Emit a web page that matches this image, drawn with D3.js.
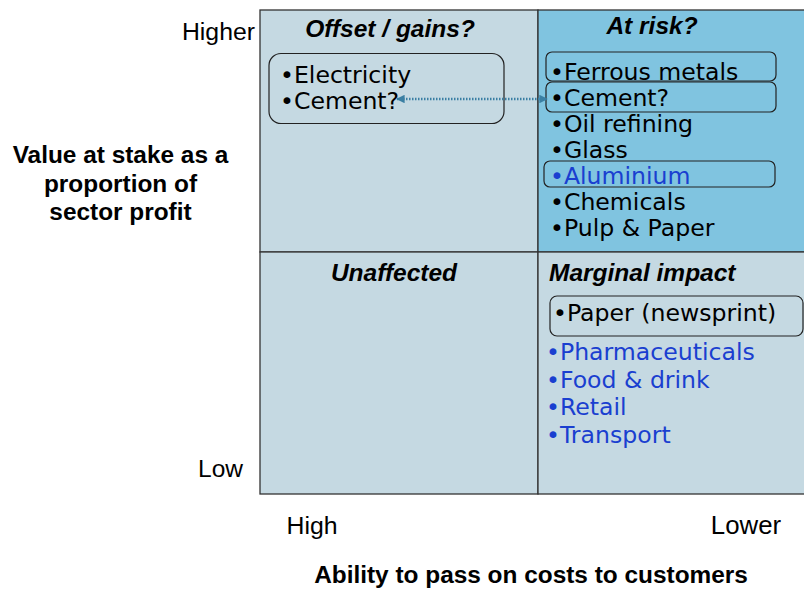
<html>
<head>
<script src="https://d3js.org/d3.v7.min.js"></script>
<style>
body { margin: 0; background: #fff; }
</style>
</head>
<body>
<script>
var width = 804;
var height = 589;

// quadrant titles, left->right, top->bottom
var quadrantTitles = ["Offset / gains?", "At risk?", "Unaffected", "Marginal impact"];
var offsetItems = ["Electricity", "Cement?"];
var atRiskItems = ["Ferrous metals", "Cement?", "Oil refining", "Glass", "Aluminium", "Chemicals", "Pulp & Paper"];
var marginalItems = ["Paper (newsprint)", "Pharmaceuticals", "Food & drink", "Retail", "Transport"];
var blueItems = ["Aluminium", "Pharmaceuticals", "Food & drink", "Retail", "Transport"];
var xTicks = ["High", "Lower"];
var yTicks = ["Low", "Higher"];
var xTitle = "Ability to pass on costs to customers";
var yTitle = ["Value at stake as a", "proportion of", "sector profit"];

var x = d3.scaleLinear().domain([0, 2]).range([260, 816]);
var y = d3.scaleLinear().domain([0, 2]).range([494, 10]);

var svg = d3.select("body").append("svg")
    .attr("width", width)
    .attr("height", height);

var defs = svg.append("defs");
defs.append("marker")
    .attr("id", "arr")
    .attr("viewBox", "0 0 10 10")
    .attr("refX", 9).attr("refY", 5)
    .attr("markerWidth", 4).attr("markerHeight", 3.4)
    .attr("orient", "auto-start-reverse")
    .append("path")
    .attr("d", "M0,0L10,5L0,10z")
    .attr("fill", "#3a7fa3");

// quadrants
var quads = [
  {c: 0, r: 1, fill: "#c5d9e2"},
  {c: 1, r: 1, fill: "#80c4e0"},
  {c: 0, r: 0, fill: "#c5d9e2"},
  {c: 1, r: 0, fill: "#c5d9e2"}
];
svg.selectAll("rect.quad")
  .data(quads)
  .enter().append("rect")
    .attr("class", "quad")
    .attr("x", function(d) { return x(d.c); })
    .attr("y", function(d) { return y(d.r + 1); })
    .attr("width", x(1) - x(0))
    .attr("height", y(0) - y(1))
    .attr("fill", function(d) { return d.fill; })
    .attr("stroke", "#333")
    .attr("stroke-width", 1.3);

// quadrant titles
var titlePos = [
  {x: x(0.5) - 9, y: 37, anchor: "middle"},
  {x: x(1.5) - 25, y: 34, anchor: "middle"},
  {x: x(0.5) - 5, y: 281, anchor: "middle"},
  {x: x(1) + 11, y: 281, anchor: "start"}
];
svg.selectAll("text.qtitle")
  .data(quadrantTitles)
  .enter().append("text")
    .attr("class", "qtitle")
    .attr("x", function(d, i) { return titlePos[i].x; })
    .attr("y", function(d, i) { return titlePos[i].y; })
    .attr("text-anchor", function(d, i) { return titlePos[i].anchor; })
    .style("font-family", "Liberation Sans, Arial, sans-serif")
    .style("font-weight", "bold")
    .style("font-style", "italic")
    .style("font-size", "24.5px")
    .text(function(d) { return d; });

function itemColor(d) { return blueItems.indexOf(d) >= 0 ? "#1a3fd0" : "#000"; }

// rounded highlight boxes
function box(bx, by, bw, bh, r) {
  svg.append("rect")
    .attr("x", bx).attr("y", by)
    .attr("width", bw).attr("height", bh)
    .attr("rx", r)
    .attr("fill", "none")
    .attr("stroke", "#222")
    .attr("stroke-width", 1.2);
}
box(x(0) + 9, 53.5, 235, 70, 12);
box(x(1) + 8, 52, 230, 29, 6);
box(x(1) + 8, 82, 230, 30, 6);
box(x(1) + 6, 161, 231, 26, 6);
box(x(1) + 12, 296, 253, 40, 7);

function drawList(items, x0, y0, step) {
  svg.append("g").selectAll("text")
    .data(items)
    .enter().append("text")
      .attr("x", x0)
      .attr("y", function(d, i) { return y0 + i * step; })
      .attr("fill", itemColor)
      .style("font-family", "DejaVu Sans, Verdana, sans-serif")
      .style("font-size", "23.6px")
      .text(function(d) { return "\u2022" + d; });
}

drawList(offsetItems, x(0) + 20, 83, 25.5);
drawList(atRiskItems, x(1) + 12, 80, 26);
drawList(marginalItems.slice(0, 1), x(1) + 15, 321, 40);
drawList(marginalItems.slice(1), x(1) + 8, 360, 27.6);

// dotted arrow between the two Cement? entries
svg.append("line")
  .attr("x1", 397).attr("y1", 99)
  .attr("x2", x(1) + 9).attr("y2", 99)
  .attr("stroke", "#3a7fa3")
  .attr("stroke-width", 2.5)
  .attr("stroke-dasharray", "1.5,1.5")
  .attr("marker-start", "url(#arr)")
  .attr("marker-end", "url(#arr)");

// axis tick labels
var lab = "Liberation Sans, Arial, sans-serif";
svg.selectAll("text.ytick")
  .data(yTicks)
  .enter().append("text")
    .attr("class", "ytick")
    .attr("x", function(d, i) { return i == 0 ? 243 : 255; })
    .attr("y", function(d, i) { return i == 0 ? 477 : 39.5; })
    .attr("text-anchor", "end")
    .style("font-family", lab)
    .style("font-size", function(d, i) { return i == 0 ? "24.5px" : "24.8px"; })
    .text(function(d) { return d; });
svg.selectAll("text.xtick")
  .data(xTicks)
  .enter().append("text")
    .attr("class", "xtick")
    .attr("x", function(d, i) { return i == 0 ? 312 : 746; })
    .attr("y", 533.5)
    .attr("text-anchor", "middle")
    .style("font-family", lab)
    .style("font-size", function(d, i) { return i == 0 ? "24.8px" : "25.8px"; })
    .text(function(d) { return d; });

svg.append("text")
  .attr("x", 531).attr("y", 583)
  .attr("text-anchor", "middle")
  .style("font-family", lab)
  .style("font-weight", "bold")
  .style("font-size", "24.4px")
  .text(xTitle);

svg.selectAll("text.ytitle")
  .data(yTitle)
  .enter().append("text")
    .attr("class", "ytitle")
    .attr("x", 120.5)
    .attr("y", function(d, i) { return 163 + i * 28.5; })
    .attr("text-anchor", "middle")
    .style("font-family", lab)
    .style("font-weight", "bold")
    .style("font-size", "24.4px")
    .text(function(d) { return d; });
</script>
</body>
</html>
